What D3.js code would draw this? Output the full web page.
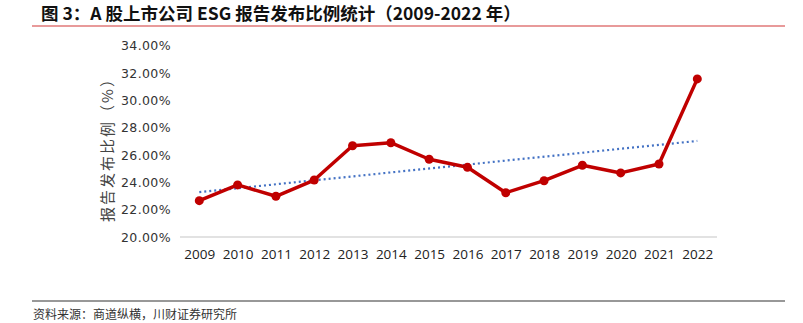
<!DOCTYPE html>
<html><head><meta charset="utf-8">
<script src="https://cdn.jsdelivr.net/npm/d3@7/dist/d3.min.js"></script>
<style>body{margin:0;background:#fff;}svg{display:block;}</style>
</head><body>
<svg id="c" width="803" height="323"></svg>
<script>
const years = ["2009","2010","2011","2012","2013","2014","2015","2016","2017","2018","2019","2020","2021","2022"];
const ratios = [22.66,23.81,22.98,24.17,26.68,26.90,25.69,25.10,23.24,24.12,25.25,24.69,25.34,31.57];
const yTicks = [20,22,24,26,28,30,32,34];
const titleText = "图 3：A 股上市公司 ESG 报告发布比例统计（2009-2022 年）";
const yAxisTitle = "报告发布比例（%）";
const sourceText = "资料来源：商道纵横，川财证券研究所";

const svg = d3.select("#c");
const cjk = "'Noto Sans CJK SC','Noto Sans',sans-serif";

// title
svg.append("text").attr("x",41).attr("y",20).attr("font-family",cjk).attr("font-weight","bold")
  .attr("font-size",17.5).attr("fill","#111").text(titleText);
svg.append("line").attr("x1",32).attr("x2",785).attr("y1",26).attr("y2",26)
  .attr("stroke","#e89a9a").attr("stroke-width",2);

const x = d3.scalePoint().domain(years).range([199.3,697.3]);
const y = d3.scaleLinear().domain([20,34]).range([237,45.7]);

// y axis labels
const yAx = svg.append("g").attr("transform","translate(171,0)")
  .call(d3.axisLeft(y).tickValues(yTicks).tickSize(0).tickPadding(0).tickFormat(d=>d3.format(".2f")(d)+"%"));
yAx.select(".domain").remove();
yAx.selectAll("text").attr("font-family","'DejaVu Sans',sans-serif").attr("font-size",12.5).attr("fill","#333")
  .attr("letter-spacing","0.4px");

// x axis
const xAx = svg.append("g").attr("transform","translate(0,237)")
  .call(d3.axisBottom(x).tickSize(0).tickPadding(12));
xAx.select(".domain").attr("stroke","#d9d9d9").attr("stroke-width",1.5).attr("d","M180,0H717");
xAx.selectAll("text").attr("font-family","'Open Sans',sans-serif").attr("font-size",13.5).attr("fill","#222");

// y axis title
svg.append("text").attr("transform","translate(113,146) rotate(-90)").attr("text-anchor","middle")
  .attr("font-family",cjk).attr("font-size",15).attr("fill","#444").attr("letter-spacing","2px").text(yAxisTitle);

// trend line (least squares of the data)
const n = ratios.length;
const idx = d3.range(n);
const mx = d3.mean(idx), my = d3.mean(ratios);
const slope = d3.sum(idx, i => (i-mx)*(ratios[i]-my)) / d3.sum(idx, i => (i-mx)*(i-mx));
const icpt = my - slope*mx;
svg.append("line")
  .attr("x1",x(years[0])).attr("y1",y(icpt))
  .attr("x2",x(years[n-1])).attr("y2",y(icpt+slope*(n-1)))
  .attr("stroke","#4472c4").attr("stroke-width",2.2).attr("stroke-dasharray","2,3");

// data line
const line = d3.line().x((d,i)=>x(years[i])).y(d=>y(d));
svg.append("path").datum(ratios).attr("d",line).attr("fill","none")
  .attr("stroke","#c00000").attr("stroke-width",3.5).attr("stroke-linejoin","round");
svg.selectAll("circle.pt").data(ratios).enter().append("circle")
  .attr("cx",(d,i)=>x(years[i])).attr("cy",d=>y(d)).attr("r",4.5).attr("fill","#c00000");

// bottom rule & source
svg.append("line").attr("x1",32).attr("x2",785).attr("y1",301).attr("y2",301)
  .attr("stroke","#333").attr("stroke-width",1.2);
svg.append("text").attr("x",33).attr("y",319).attr("font-family",cjk).attr("font-size",12)
  .attr("fill","#333").text(sourceText);
</script>
</body></html>
